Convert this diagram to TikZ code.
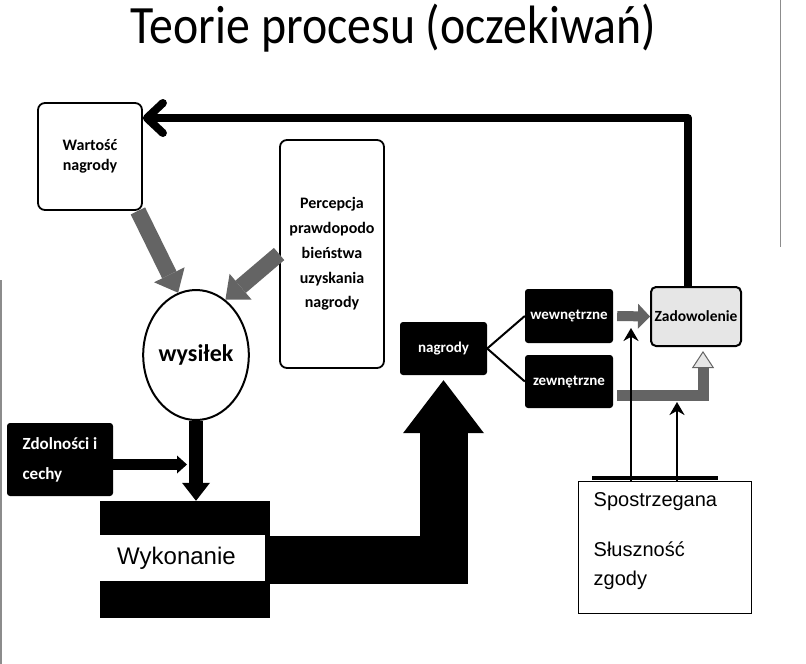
\documentclass[tikz,border=0pt]{standalone}
\usepackage{fontspec}
\setmainfont{Carlito}
\newfontfamily\boxfont{Liberation Sans}
\usetikzlibrary{arrows.meta,calc,shapes.geometric}
\definecolor{ink}{HTML}{000000}
\definecolor{shade}{HTML}{646464}
\definecolor{pale}{HTML}{E6E6E6}
\definecolor{edge}{HTML}{8C8C8C}
\tikzset{
  rbox/.style={draw=ink, line width=1.8pt, rounded corners=7pt, fill=white, align=center, inner sep=0pt, font=\bfseries\fontsize{16}{20}\selectfont},
  dbox/.style={fill=ink, rounded corners=3pt, text=white, inner sep=0pt, font=\bfseries\fontsize{15}{20}\selectfont},
  sbox/.style={draw=ink, line width=1pt, fill=white, inner sep=0pt},
  stext/.style={align=left, inner sep=0pt, font=\boxfont\fontsize{20}{29}\selectfont},
  fb/.style={draw=ink, line width=8pt, line join=round, -{Straight Barb[round,length=16pt,width=30pt]}},
  grey/.style={draw=shade, line width=16pt, -{Triangle[length=20pt,width=34pt,line width=0pt]}},
  down/.style={draw=ink, line width=14pt, -{Triangle[length=18pt,width=28pt,line width=0pt]}},
  side/.style={draw=ink, line width=11pt, -{Triangle[length=10pt,width=18pt,line width=0pt]}},
  big/.style={draw=ink, line width=48pt, line join=miter, -{Triangle[length=53pt,width=81pt,line width=0pt]}},
  flat/.style={draw=shade, line width=10pt, -{Triangle[length=12pt,width=25pt,line width=0pt]}},
  hollow/.style={draw=shade, line width=11pt, -{Triangle[length=17pt,width=22pt,color=shade,fill=pale,line width=1pt]}},
  fork/.style={draw=ink, line width=2pt},
  thinarr/.style={draw=ink, line width=2.8pt, -{Stealth[length=13pt,width=15pt]}},
}

\begin{document}
\begin{tikzpicture}[x=1pt, y=-1pt]
  \fill[white] (0,0) rectangle (806,664);
  \useasboundingbox (0,0) rectangle (806,664);
  \draw[edge, line width=1.5pt] (1,280) -- (1,664);
  \draw[edge, line width=0.8pt] (780,0) -- (780,247);

  \node[anchor=base, font=\fontsize{54}{60}\selectfont] (title) at (393.5,43) {\scalebox{0.885}[1]{Teorie procesu (oczekiwań)}};

  % left part
  \node[rbox, minimum width=104pt, minimum height=107pt] (wart) at (90,156.5) {Wartość\\nagrody};
  \node[rbox, minimum width=104pt, minimum height=228pt, font=\bfseries\fontsize{16}{24.75}\selectfont] (perc) at (332,254) {Percepcja\\prawdopodo\\bieństwa\\uzyskania\\nagrody};
  \node[ellipse, draw=ink, line width=2pt, fill=white, minimum width=98pt, minimum height=130pt, inner sep=0pt, font=\bfseries\fontsize{24}{30}\selectfont] (wys) at (196,355) {wysiłek};
  \node[dbox, minimum width=106pt, minimum height=73pt, align=left, font=\bfseries\fontsize{17}{30}\selectfont] (zdol) at (60,459.5) {Zdolności i\\cechy};
  \node[fill=ink, minimum width=170pt, minimum height=117pt, inner sep=0pt] (wyk) at (185,559.5) {};
  \node[fill=white, anchor=west, minimum height=46pt, text width=131pt, inner xsep=17pt, inner ysep=0pt, align=left, font=\boxfont\fontsize{24}{28}\selectfont] (wyklab) at (100,558) {Wykonanie};

  % right part
  \node[dbox, minimum width=87pt, minimum height=53pt] (nagr) at (443.5,348.5) {nagrody};
  \node[dbox, minimum width=88pt, minimum height=54pt] (wewn) at (569,316) {wewnętrzne};
  \node[dbox, minimum width=88pt, minimum height=53pt] (zewn) at (569,381.5) {zewnętrzne};
  \node[rbox, fill=pale, line width=2pt, rounded corners=5pt, minimum width=90pt, minimum height=59pt, font=\bfseries\fontsize{15.5}{18}\selectfont] (zad) at (696,316.5) {Zadowolenie};
  \draw[ink, line width=3.5pt] (592,478) -- (718,478);
  \node[sbox, minimum width=173pt, minimum height=132pt] (spos) at (664.5,547) {};
  \node[stext, anchor=north west] (spostxt) at ([xshift=16pt, yshift=-12pt]spos.north west) {Spostrzegana\\[21pt]Słuszność\\zgody};

  \coordinate (zin) at ($(wys.south |- zdol.east)+(-9,5)$);
  \coordinate (p1) at (631,328);
  \coordinate (p2) at (677,402);

  % connectors
  \draw[fb] ([xshift=-8pt]zad.north) |- (wart.east |- 0,118);
  \draw[grey] ([xshift=-5pt]wart.south east) -- (wys.106);
  \draw[grey] (perc.west) -- (wys.62);
  \draw[down] (wys.south) -- (wys.south |- wyk.north);
  \draw[side] ([yshift=-5pt]zdol.east) -- (zin);
  \draw[big] (wyk.east) -| ([yshift=-5pt]nagr.south);
  \draw[fork] (nagr.east) -- (wewn.west);
  \draw[fork] (nagr.east) -- (zewn.west);
  \draw[flat] ([xshift=4pt]wewn.east) -- (zad.west);
  \draw[hollow] ([xshift=4pt, yshift=-14pt]zewn.east) -| ([xshift=7pt, yshift=-4pt]zad.south);
  \draw[thinarr] (p1 |- spos.north) -- (p1);
  \draw[thinarr] (p2 |- spos.north) -- (p2);
\end{tikzpicture}
\end{document}
